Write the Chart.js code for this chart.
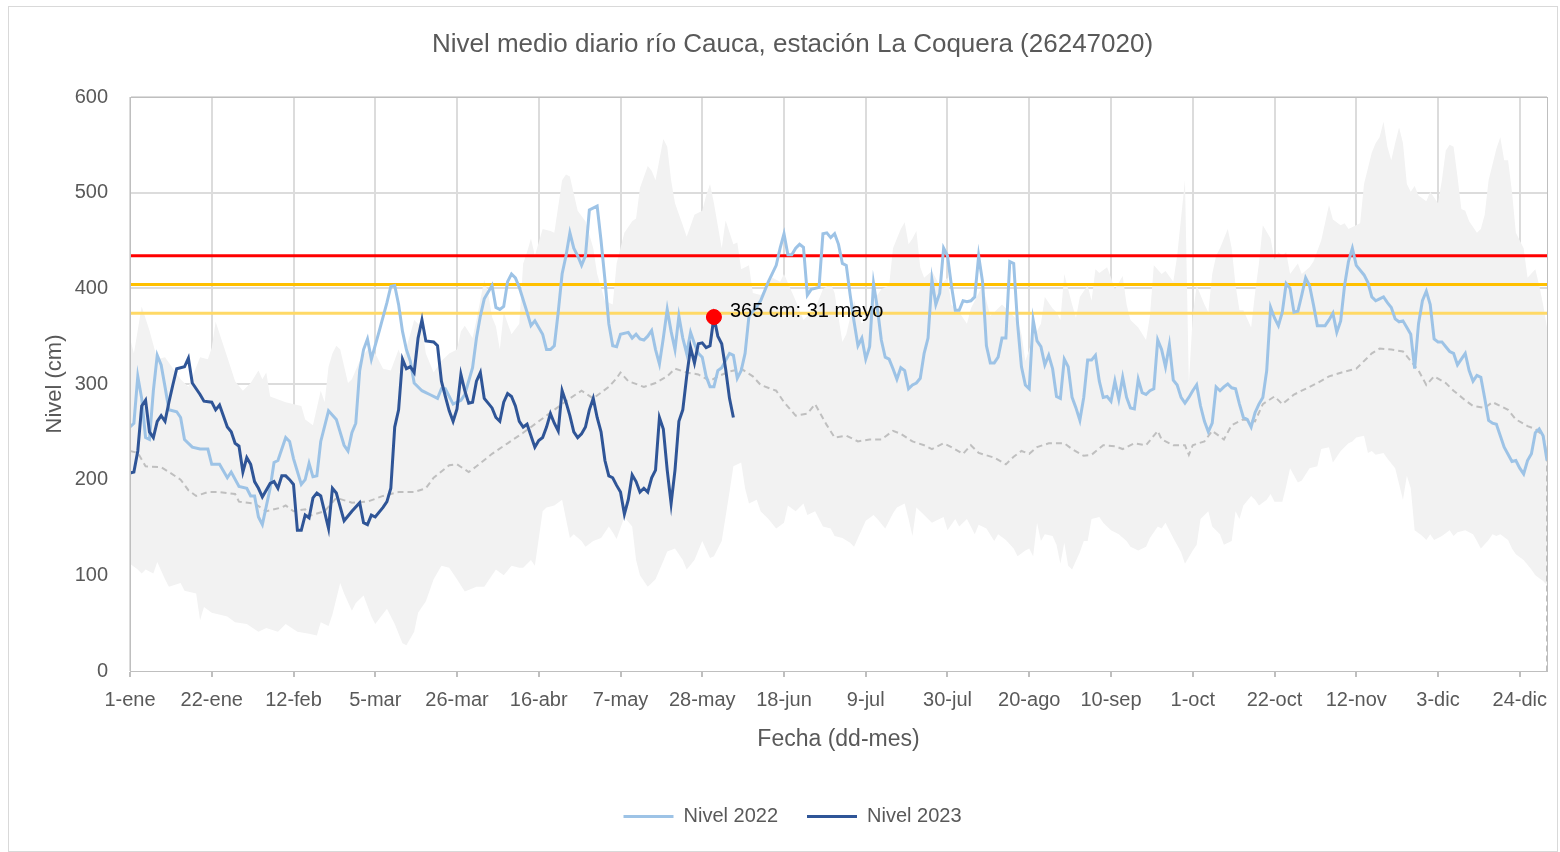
<!DOCTYPE html>
<html>
<head>
<meta charset="utf-8">
<script src="https://cdn.jsdelivr.net/npm/chart.js@4.4.0/dist/chart.umd.min.js"></script>
<style>
  body { margin: 0; background: #fff; }
  #marco { position: absolute; left: 8px; top: 6px; width: 1548px; height: 844px; border: 1px solid #d9d9d9; pointer-events: none; }
  #grafico { position: absolute; left: 0; top: 0; }
</style>
</head>
<body>
<canvas id="grafico" width="1560" height="852"></canvas>
<div id="marco"></div>
<script>
// textos
const titulo = 'Nivel medio diario río Cauca, estación La Coquera (26247020)';
const etiquetasX = ['1-ene', '22-ene', '12-feb', '5-mar', '26-mar', '16-abr', '7-may', '28-may', '18-jun',
  '9-jul', '30-jul', '20-ago', '10-sep', '1-oct', '22-oct', '12-nov', '3-dic', '24-dic'];
const textoPunto = '365 cm: 31 mayo';

// umbrales (cm)
const umbralRojo = 434;
const umbralNaranja = 404;
const umbralAmarillo = 374;

// punto marcado: [dia del año, nivel]
const puntoMarcado = [150, 370];

// series: [dia del año (0 = 1-ene), nivel cm]
const nivel2022 = [[0,255],[1,259],[2,308],[3,285],[4,244],[5,242],[6,293],[7,330],[8,320],[9,297],[10,273],[12,271],[13,265],[14,242],[16,234],[18,232],[20,232],[21,216],[23,216],[25,202],[26,208],[28,193],[30,191],[31,183],[32,183],[33,161],[34,153],[36,191],[37,218],[38,220],[40,244],[41,240],[42,222],[44,195],[45,200],[46,217],[47,203],[48,204],[49,240],[51,272],[53,263],[55,236],[56,230],[57,249],[58,259],[59,314],[60,336],[61,347],[62,326],[64,355],[66,385],[67,402],[68,403],[69,383],[70,355],[71,336],[72,324],[73,301],[75,293],[76,291],[77,289],[79,285],[80,295],[81,295],[82,287],[83,279],[85,283],[86,289],[88,317],[89,348],[90,371],[91,389],[93,403],[94,380],[95,378],[96,381],[97,407],[98,415],[99,411],[100,401],[102,375],[103,361],[104,366],[106,352],[107,336],[108,336],[109,340],[110,375],[111,415],[112,434],[113,458],[114,442],[115,434],[116,424],[117,434],[118,482],[120,486],[121,450],[122,409],[123,363],[124,340],[125,339],[126,352],[128,354],[129,348],[130,352],[131,347],[132,346],[133,350],[134,356],[135,336],[136,321],[137,348],[138,378],[139,355],[140,336],[141,371],[142,348],[143,332],[144,354],[145,342],[146,332],[147,328],[148,308],[149,297],[150,297],[151,314],[152,317],[154,332],[155,330],[156,306],[157,314],[158,332],[159,371],[161,381],[162,387],[164,407],[166,424],[167,442],[168,457],[169,435],[170,435],[171,442],[172,446],[173,443],[174,393],[175,399],[177,401],[178,457],[179,458],[180,453],[181,457],[182,446],[183,426],[184,424],[185,393],[186,365],[187,340],[188,348],[189,326],[190,339],[191,405],[192,379],[193,346],[194,328],[195,326],[196,316],[197,305],[198,317],[199,314],[200,295],[201,299],[202,301],[203,306],[204,332],[205,348],[206,409],[207,383],[208,395],[209,442],[210,434],[211,403],[212,377],[213,377],[214,387],[215,386],[216,387],[217,391],[218,434],[219,407],[220,340],[221,322],[222,322],[223,328],[224,348],[225,348],[226,428],[227,426],[228,363],[229,318],[230,299],[231,295],[232,367],[233,345],[234,339],[235,320],[236,330],[237,316],[238,287],[239,285],[240,326],[241,318],[242,286],[243,275],[244,262],[245,286],[246,325],[247,325],[248,330],[249,303],[250,286],[251,287],[252,282],[253,303],[254,284],[255,307],[256,286],[257,275],[258,274],[259,305],[260,291],[261,289],[262,293],[263,295],[264,346],[265,336],[266,318],[267,341],[268,304],[269,299],[270,286],[271,280],[272,286],[273,293],[274,299],[275,277],[276,261],[277,250],[278,259],[279,297],[280,293],[281,297],[282,300],[283,296],[284,295],[285,279],[286,265],[287,263],[288,255],[289,270],[290,279],[291,286],[292,314],[293,380],[294,369],[295,361],[296,375],[297,405],[298,400],[299,375],[300,376],[301,393],[302,411],[303,403],[304,383],[305,361],[307,361],[308,367],[309,374],[310,354],[311,366],[312,403],[313,428],[314,442],[315,424],[317,414],[318,406],[319,391],[320,387],[321,389],[322,391],[323,385],[324,380],[325,368],[326,365],[327,366],[328,359],[329,352],[330,316],[331,363],[332,387],[333,397],[334,383],[335,347],[336,344],[337,344],[338,339],[339,334],[340,332],[341,320],[342,326],[343,332],[344,314],[345,303],[346,309],[347,307],[348,285],[349,262],[350,259],[351,258],[352,246],[353,234],[355,219],[356,220],[357,212],[358,206],[359,220],[360,227],[361,249],[362,253],[363,246],[364,220]];

const nivel2023 = [[0,207],[1,208],[2,230],[3,277],[4,283],[5,250],[6,244],[7,261],[8,267],[9,261],[10,281],[11,299],[12,316],[14,318],[15,327],[16,301],[18,289],[19,282],[21,281],[22,273],[23,278],[25,255],[26,250],[27,238],[28,235],[29,208],[30,223],[31,216],[32,198],[33,191],[34,182],[36,196],[37,198],[38,191],[39,204],[40,204],[41,200],[42,195],[43,147],[44,147],[45,163],[46,160],[47,181],[48,186],[49,183],[51,149],[52,191],[53,186],[55,157],[57,167],[59,176],[60,155],[61,153],[62,163],[63,161],[65,171],[66,177],[67,191],[68,255],[69,273],[70,326],[71,316],[72,318],[73,312],[74,348],[75,367],[76,345],[78,344],[79,340],[80,303],[81,287],[82,272],[83,261],[84,274],[85,310],[86,293],[87,280],[88,281],[89,303],[90,312],[91,285],[92,280],[93,275],[94,265],[95,261],[96,281],[97,290],[98,287],[99,277],[100,261],[101,255],[102,258],[103,246],[104,234],[105,241],[106,244],[107,255],[108,269],[109,259],[110,251],[111,293],[112,281],[113,267],[114,250],[115,244],[116,248],[117,255],[118,273],[119,285],[120,265],[121,250],[122,220],[123,204],[124,202],[125,194],[126,187],[127,164],[128,179],[129,205],[130,198],[131,187],[132,191],[133,187],[134,202],[135,210],[136,265],[137,253],[138,210],[139,175],[140,210],[141,261],[142,273],[143,308],[144,338],[145,322],[146,342],[147,343],[148,338],[149,340],[150,370],[151,350],[152,342],[153,316],[154,285],[155,265]];

// media historica (con los extremos bajando a 0 como en el original)
const mediaHist = [[0,0],[0,230],[2,228],[4,214],[8,213],[10,208],[13,200],[15,189],[17,183],[20,187],[23,187],[27,185],[28,177],[32,175],[35,167],[39,171],[40,173],[42,167],[45,169],[46,162],[50,167],[53,181],[57,176],[61,177],[65,183],[69,187],[73,187],[76,191],[78,202],[82,215],[84,216],[87,208],[89,214],[93,227],[97,238],[101,249],[105,261],[109,273],[113,285],[116,293],[119,285],[123,297],[125,306],[126,312],[128,303],[132,297],[135,301],[138,308],[140,316],[143,312],[146,310],[149,303],[151,308],[154,313],[157,316],[160,308],[162,299],[166,293],[168,281],[171,267],[174,269],[176,279],[179,257],[181,244],[184,246],[187,240],[190,242],[193,242],[196,251],[198,248],[201,240],[204,236],[206,232],[209,238],[211,234],[214,227],[216,236],[218,228],[222,223],[225,216],[227,224],[229,230],[231,227],[233,234],[236,238],[240,238],[242,232],[245,225],[247,226],[250,236],[253,235],[255,232],[258,238],[261,236],[264,251],[265,242],[268,236],[271,236],[272,226],[273,236],[276,240],[278,251],[281,242],[283,257],[286,263],[289,261],[291,279],[294,287],[296,279],[299,289],[301,293],[305,301],[308,308],[312,313],[315,316],[319,332],[321,337],[324,336],[327,334],[329,324],[331,314],[333,299],[335,308],[338,301],[340,293],[343,283],[345,277],[348,275],[350,281],[354,273],[356,263],[359,256],[361,253],[363,246],[364,226],[364,0]];

const maxHist = [[0,348],[1,332],[3,381],[5,356],[7,326],[9,328],[13,305],[15,297],[18,328],[20,326],[21,338],[22,365],[25,328],[27,303],[29,293],[31,301],[33,314],[34,305],[35,312],[36,287],[40,281],[44,277],[45,263],[47,257],[49,293],[50,281],[51,318],[52,332],[53,340],[54,336],[56,301],[57,305],[59,324],[61,336],[63,332],[65,316],[67,314],[69,336],[70,324],[72,352],[73,367],[75,359],[76,332],[78,312],[80,324],[82,332],[84,336],[85,355],[86,361],[88,348],[89,367],[91,409],[92,395],[93,370],[94,360],[95,336],[96,375],[98,352],[100,363],[101,426],[102,438],[103,452],[104,434],[106,462],[108,460],[109,458],[111,513],[112,519],[113,517],[115,481],[117,470],[119,442],[120,415],[122,387],[124,383],[125,426],[127,458],[129,470],[130,473],[131,505],[133,528],[134,523],[135,513],[137,556],[138,548],[139,513],[140,489],[142,466],[143,454],[145,477],[147,481],[148,497],[149,509],[150,489],[152,442],[153,471],[155,446],[156,448],[157,420],[159,424],[160,395],[162,393],[165,411],[167,407],[168,415],[171,387],[173,367],[174,371],[176,379],[178,399],[180,405],[181,395],[183,344],[184,352],[186,387],[188,363],[190,375],[191,387],[193,399],[195,403],[196,442],[198,462],[199,469],[200,446],[201,452],[202,460],[203,422],[204,411],[206,418],[208,403],[210,411],[211,383],[213,375],[215,363],[216,379],[217,387],[219,403],[221,371],[222,375],[224,383],[226,375],[228,367],[229,352],[230,324],[232,348],[234,363],[235,391],[237,379],[238,375],[239,367],[240,415],[242,383],[243,369],[244,391],[246,403],[247,387],[248,420],[249,416],[251,422],[252,411],[253,399],[255,413],[256,383],[257,367],[259,359],[261,346],[262,371],[263,424],[265,415],[266,418],[268,407],[269,434],[271,513],[272,301],[273,371],[274,403],[276,383],[277,375],[278,415],[279,434],[280,442],[282,462],[283,442],[284,403],[285,377],[286,377],[288,359],[289,395],[290,426],[291,466],[293,452],[294,430],[295,438],[296,434],[297,438],[298,415],[300,426],[301,415],[303,422],[304,428],[306,450],[308,487],[309,472],[311,466],[312,468],[313,462],[316,468],[317,509],[319,542],[320,552],[321,558],[322,574],[323,548],[324,534],[325,552],[326,568],[327,552],[328,509],[329,501],[330,507],[331,497],[333,491],[334,501],[335,495],[336,489],[337,513],[338,544],[339,550],[340,548],[341,517],[342,483],[343,481],[344,470],[346,458],[347,462],[348,477],[349,513],[351,546],[352,558],[353,534],[354,534],[355,501],[356,458],[358,442],[359,411],[361,420],[362,403],[363,383],[364,359]];

const minHist = [[0,112],[2,106],[3,102],[4,106],[6,102],[7,114],[9,96],[10,88],[13,92],[14,84],[17,81],[18,53],[19,67],[21,61],[25,57],[27,51],[30,49],[33,41],[35,45],[38,41],[40,49],[43,41],[46,39],[48,37],[49,51],[51,47],[52,59],[54,92],[55,81],[57,63],[58,71],[60,79],[62,57],[63,49],[66,65],[68,49],[70,29],[71,27],[73,41],[74,61],[76,73],[78,96],[80,110],[82,108],[84,96],[86,83],[89,88],[91,88],[93,100],[94,106],[96,100],[98,110],[100,108],[101,108],[103,116],[104,110],[106,167],[107,171],[109,173],[111,179],[112,159],[113,139],[114,143],[116,136],[117,130],[119,136],[121,139],[123,151],[124,145],[125,138],[127,161],[129,151],[130,116],[131,100],[133,88],[135,96],[137,115],[138,125],[140,128],[142,116],[143,106],[145,116],[147,136],[149,118],[150,120],[152,136],[154,187],[155,214],[157,218],[158,191],[159,175],[161,179],[162,167],[164,159],[166,149],[168,155],[169,173],[171,167],[173,175],[174,163],[176,167],[178,151],[180,149],[181,141],[183,139],[185,134],[186,130],[187,139],[189,157],[191,163],[192,159],[194,149],[196,165],[197,171],[199,175],[200,159],[201,141],[202,171],[204,163],[206,155],[207,157],[209,161],[210,147],[212,159],[213,151],[215,159],[217,143],[218,153],[220,149],[222,136],[223,143],[225,137],[227,128],[228,120],[230,126],[231,128],[232,120],[233,155],[234,136],[235,143],[237,141],[238,132],[239,112],[240,134],[241,110],[242,106],[244,124],[245,136],[246,136],[247,159],[249,161],[250,155],[252,147],[254,143],[256,136],[257,130],[259,126],[261,130],[262,139],[264,151],[265,149],[266,155],[268,139],[270,124],[271,112],[273,126],[274,132],[275,159],[277,167],[278,151],[280,143],[281,132],[283,136],[284,167],[285,159],[286,173],[288,183],[289,179],[290,173],[292,179],[293,185],[294,177],[296,177],[297,193],[298,212],[300,197],[301,199],[303,212],[305,214],[306,232],[308,234],[309,218],[311,230],[313,238],[314,240],[315,244],[317,246],[318,228],[319,230],[320,226],[322,228],[323,222],[325,212],[327,179],[328,204],[329,191],[330,147],[332,141],[333,137],[334,143],[335,137],[337,141],[339,147],[340,141],[341,145],[343,147],[345,143],[346,136],[347,128],[349,137],[350,143],[351,141],[352,143],[354,137],[355,128],[356,122],[358,116],[360,106],[361,100],[363,94],[364,90]];

const FN = '"Liberation Sans", Arial, sans-serif';
const gris = '#595959';

function xy(arr) {
  return arr.map(p => ({ x: p[0], y: p[1] }));
}
function recta(valor) {
  return [{ x: 0, y: valor }, { x: 364, y: valor }];
}

// etiqueta del punto rojo
const etiquetaPunto = {
  id: 'etiquetaPunto',
  afterDatasetsDraw(chart) {
    const p = chart.getDatasetMeta(2).data[0];
    const ctx = chart.ctx;
    ctx.save();
    ctx.font = '20px ' + FN;
    ctx.fillStyle = '#000';
    ctx.textBaseline = 'middle';
    ctx.fillText(textoPunto, p.x + 16, p.y - 6);
    ctx.restore();
  }
};

// borde del area de trazado
const bordeArea = {
  id: 'bordeArea',
  afterDatasetsDraw(chart) {
    const a = chart.chartArea;
    const ctx = chart.ctx;
    ctx.save();
    ctx.strokeStyle = '#BFBFBF';
    ctx.lineWidth = 1;
    ctx.strokeRect(Math.round(a.left) + 0.5, Math.round(a.top) + 0.5, Math.round(a.right - a.left), Math.round(a.bottom - a.top));
    ctx.restore();
  }
};

const ctx = document.getElementById('grafico').getContext('2d');
const myChart = new Chart(ctx, {
  type: 'line',
  data: {
    datasets: [
      { label: 'Nivel 2022', data: xy(nivel2022), borderColor: '#9DC3E6', backgroundColor: '#9DC3E6',
        borderWidth: 3, pointStyle: 'line', order: 1 },
      { label: 'Nivel 2023', data: xy(nivel2023), borderColor: '#2F5597', backgroundColor: '#2F5597',
        borderWidth: 3, pointStyle: 'line', order: 0 },
      { label: 'Punto', data: [{ x: puntoMarcado[0], y: puntoMarcado[1] }], showLine: false,
        pointRadius: 7.5, pointBackgroundColor: '#FF0000', pointBorderColor: '#FF0000', order: -1 },
      { label: 'Umbral rojo', data: recta(umbralRojo), borderColor: '#FF0000', borderWidth: 3, order: 2 },
      { label: 'Umbral naranja', data: recta(umbralNaranja), borderColor: '#FFC000', borderWidth: 3, order: 2 },
      { label: 'Umbral amarillo', data: recta(umbralAmarillo), borderColor: '#FFD966', borderWidth: 3, order: 2 },
      { label: 'Media', data: xy(mediaHist), borderColor: '#BFBFBF', borderWidth: 2, borderDash: [6, 4], order: 3 },
      { label: 'Minimo', data: xy(minHist), borderWidth: 0, borderColor: 'rgba(0,0,0,0)',
        backgroundColor: '#FFFFFF', fill: 'origin', order: 4 },
      { label: 'Maximo', data: xy(maxHist), borderWidth: 0, borderColor: 'rgba(0,0,0,0)',
        backgroundColor: '#F2F2F2', fill: 'origin', order: 5 }
    ]
  },
  options: {
    responsive: false,
    animation: false,
    devicePixelRatio: 1,
    layout: { padding: { left: 38, right: 13, top: 0, bottom: 15.5 } },
    elements: { point: { radius: 0 }, line: { tension: 0 } },
    plugins: {
      title: {
        display: true,
        text: titulo,
        color: gris,
        font: { family: FN, size: 26, weight: 'normal' },
        padding: { top: 29, bottom: 36.8 }
      },
      legend: {
        position: 'bottom',
        labels: {
          filter: item => item.datasetIndex < 2,
          sort: (a, b) => a.datasetIndex - b.datasetIndex,
          usePointStyle: true,
          pointStyleWidth: 50,
          padding: 29,
          color: gris,
          font: { family: FN, size: 20 }
        }
      },
      tooltip: { enabled: false }
    },
    scales: {
      x: {
        type: 'linear',
        min: 0,
        max: 364,
        afterBuildTicks: s => { s.ticks = etiquetasX.map((t, i) => ({ value: i * 21 })); },
        afterFit: s => { s.height = 106.5; },
        ticks: {
          autoSkip: false,
          maxRotation: 0,
          padding: 11,
          color: gris,
          font: { family: FN, size: 20 },
          callback: (v, i) => etiquetasX[i]
        },
        grid: { color: '#DCDCDC', lineWidth: 2, tickLength: 6, tickColor: '#BFBFBF' },
        border: { color: '#BFBFBF' },
        title: {
          display: true, text: 'Fecha (dd-mes)', color: gris,
          font: { family: FN, size: 23 }, padding: { top: 0, bottom: 23.7 }
        }
      },
      y: {
        min: 0,
        max: 600,
        afterFit: s => { s.width = 92; },
        ticks: { stepSize: 100, padding: 22, color: gris, font: { family: FN, size: 20 } },
        grid: { color: '#DCDCDC', lineWidth: 2, drawTicks: false },
        border: { color: '#BFBFBF' },
        title: {
          display: true, text: 'Nivel (cm)', color: gris,
          font: { family: FN, size: 22 }, padding: { top: 4, bottom: 0 }
        }
      }
    }
  },
  plugins: [bordeArea, etiquetaPunto]
});
</script>
</body>
</html>
